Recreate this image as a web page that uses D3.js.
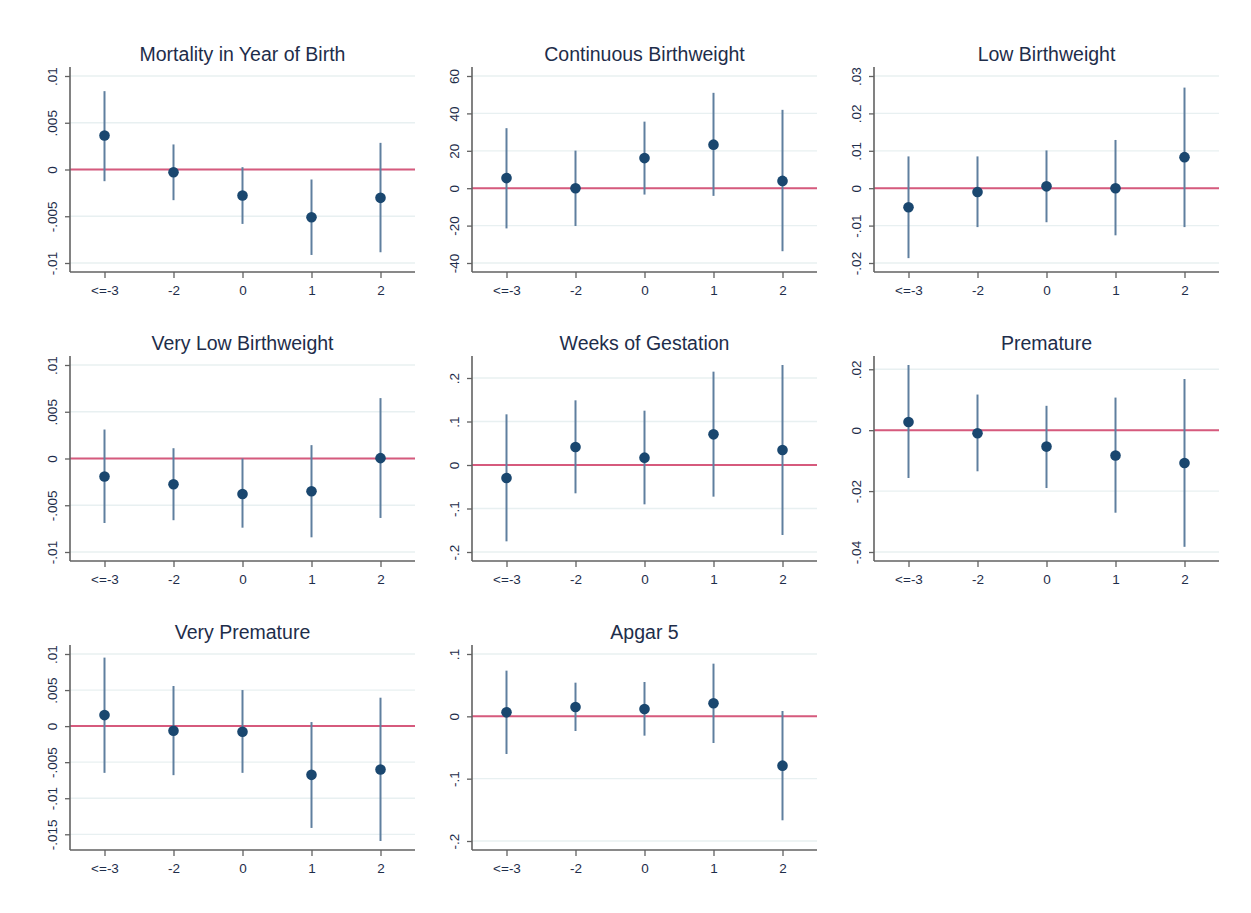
<!DOCTYPE html>
<html>
<head>
<meta charset="utf-8">
<script src="https://cdn.jsdelivr.net/npm/d3@7/dist/d3.min.js"></script>
<style>
  html, body { margin: 0; padding: 0; background: #ffffff; }
  svg { display: block; }
  text { font-family: "Liberation Sans", Arial, sans-serif; }
</style>
</head>
<body>
<svg id="chart" width="1251" height="913"></svg>
<script>
// ---- categories ----
const categories = ["<=-3", "-2", "0", "1", "2"];

// ---- panel titles ----
const titles = [
  "Mortality in Year of Birth", "Continuous Birthweight", "Low Birthweight",
  "Very Low Birthweight", "Weeks of Gestation", "Premature",
  "Very Premature", "Apgar 5"
];

// ---- point estimates and confidence intervals ----
const mortalityEst = [0.00364, -0.00029, -0.00278, -0.0051, -0.00303];
const mortalityLo  = [-0.00125, -0.00328, -0.00582, -0.00914, -0.00885];
const mortalityHi  = [0.00838, 0.00268, 0.00025, -0.00107, 0.00285];

const bwEst = [5.4, 0.0, 16.1, 23.3, 3.9];
const bwLo  = [-21.5, -20.2, -3.4, -4.1, -33.7];
const bwHi  = [32.1, 20.1, 35.6, 51.0, 41.9];

const lbwEst = [-0.0051, -0.0010, 0.0005, 0.0000, 0.0083];
const lbwLo  = [-0.0187, -0.0104, -0.0091, -0.0126, -0.0104];
const lbwHi  = [0.0085, 0.0085, 0.0101, 0.0129, 0.0269];

const vlbwEst = [-0.00193, -0.00275, -0.00379, -0.0035, 0.00004];
const vlbwLo  = [-0.0069, -0.0066, -0.0074, -0.00843, -0.00636];
const vlbwHi  = [0.0031, 0.0011, 0.0000, 0.00143, 0.00646];

const gestEst = [-0.030, 0.0414, 0.0169, 0.0705, 0.0345];
const gestLo  = [-0.1755, -0.0651, -0.0904, -0.0728, -0.1609];
const gestHi  = [0.1165, 0.1487, 0.1249, 0.2146, 0.2299];

const premEst = [0.0027, -0.0010, -0.0054, -0.0083, -0.0108];
const premLo  = [-0.0157, -0.0135, -0.0190, -0.0271, -0.0383];
const premHi  = [0.0214, 0.0117, 0.0080, 0.0107, 0.0168];

const vpremEst = [0.00153, -0.00065, -0.00079, -0.00676, -0.00602];
const vpremLo  = [-0.00648, -0.0068, -0.00648, -0.01412, -0.01593];
const vpremHi  = [0.0095, 0.00556, 0.0050, 0.00056, 0.00394];

const apgarEst = [0.0064, 0.0150, 0.0118, 0.0209, -0.0791];
const apgarLo  = [-0.0604, -0.0235, -0.0310, -0.0428, -0.1668];
const apgarHi  = [0.0733, 0.0540, 0.0551, 0.0845, 0.0086];

// ---- y tick values and labels ----
const mortalityTicks = [-0.01, -0.005, 0, 0.005, 0.01];
const mortalityTickLabels = ["-.01", "-.005", "0", ".005", ".01"];
const bwTicks = [-40, -20, 0, 20, 40, 60];
const bwTickLabels = ["-40", "-20", "0", "20", "40", "60"];
const lbwTicks = [-0.02, -0.01, 0, 0.01, 0.02, 0.03];
const lbwTickLabels = ["-.02", "-.01", "0", ".01", ".02", ".03"];
const vlbwTicks = [-0.01, -0.005, 0, 0.005, 0.01];
const vlbwTickLabels = ["-.01", "-.005", "0", ".005", ".01"];
const gestTicks = [-0.2, -0.1, 0, 0.1, 0.2];
const gestTickLabels = ["-.2", "-.1", "0", ".1", ".2"];
const premTicks = [-0.04, -0.02, 0, 0.02];
const premTickLabels = ["-.04", "-.02", "0", ".02"];
const vpremTicks = [-0.015, -0.01, -0.005, 0, 0.005, 0.01];
const vpremTickLabels = ["-.015", "-.01", "-.005", "0", ".005", ".01"];
const apgarTicks = [-0.2, -0.1, 0, 0.1];
const apgarTickLabels = ["-.2", "-.1", "0", ".1"];

const panels = [
  { est: mortalityEst, lo: mortalityLo, hi: mortalityHi, ticks: mortalityTicks, labels: mortalityTickLabels },
  { est: bwEst, lo: bwLo, hi: bwHi, ticks: bwTicks, labels: bwTickLabels },
  { est: lbwEst, lo: lbwLo, hi: lbwHi, ticks: lbwTicks, labels: lbwTickLabels },
  { est: vlbwEst, lo: vlbwLo, hi: vlbwHi, ticks: vlbwTicks, labels: vlbwTickLabels },
  { est: gestEst, lo: gestLo, hi: gestHi, ticks: gestTicks, labels: gestTickLabels },
  { est: premEst, lo: premLo, hi: premHi, ticks: premTicks, labels: premTickLabels },
  { est: vpremEst, lo: vpremLo, hi: vpremHi, ticks: vpremTicks, labels: vpremTickLabels },
  { est: apgarEst, lo: apgarLo, hi: apgarHi, ticks: apgarTicks, labels: apgarTickLabels }
].map((p, i) => Object.assign(p, { title: titles[i] }));

// ---- layout ----
const colLeft = [70, 472, 874];
const rowTop = [67, 356, 645];
const plotW = 345;
const plotH = 205;
const inner = 9;

const C = {
  text: "#1e2d4a",
  axis: "#626262",
  grid: "#e8f0f1",
  zero: "#d65a7d",
  ci: "#5f7f9f",
  marker: "#1a476f"
};

const svg = d3.select("#chart");

panels.forEach((p, i) => {
  const left = colLeft[i % 3];
  const top = rowTop[Math.floor(i / 3)];
  const right = left + plotW;
  const bottom = top + plotH;

  const lo = Math.min(d3.min(p.ticks), d3.min(p.lo));
  const hi = Math.max(d3.max(p.ticks), d3.max(p.hi));
  const y = d3.scaleLinear().domain([lo, hi]).range([bottom - inner, top + inner]);
  const x = d3.scalePoint().domain(categories).range([left, right]).padding(0.5);

  const g = svg.append("g");

  // gridlines
  g.append("g").selectAll("line").data(p.ticks).join("line")
    .attr("x1", left).attr("x2", right)
    .attr("y1", d => y(d)).attr("y2", d => y(d))
    .attr("stroke", C.grid).attr("stroke-width", 1.3);

  // zero reference line
  g.append("line")
    .attr("x1", left).attr("x2", right)
    .attr("y1", y(0)).attr("y2", y(0))
    .attr("stroke", C.zero).attr("stroke-width", 2);

  // y axis
  const yAxis = d3.axisLeft(y).tickValues(p.ticks)
    .tickFormat((d, k) => p.labels[k]).tickSize(5).tickSizeOuter(0);
  const ya = g.append("g").attr("transform", `translate(${left},0)`).call(yAxis);
  ya.select(".domain").attr("d", `M0,${top}V${bottom}`).attr("stroke", C.axis).attr("stroke-width", 1.6);
  ya.selectAll(".tick line").attr("stroke", C.axis).attr("stroke-width", 1.3);
  ya.selectAll(".tick text")
    .attr("transform", "rotate(-90)")
    .attr("x", 0).attr("y", -13).attr("dy", 0)
    .style("text-anchor", "middle")
    .attr("fill", C.text)
    .style("font-size", "13.5px")
    .style("font-family", "'Liberation Sans', Arial, sans-serif");

  // x axis
  const xAxis = d3.axisBottom(x).tickSize(6).tickSizeOuter(0).tickPadding(7);
  const xa = g.append("g").attr("transform", `translate(0,${bottom})`).call(xAxis);
  xa.select(".domain").attr("d", `M${left},0H${right}`).attr("stroke", C.axis).attr("stroke-width", 1.6);
  xa.selectAll(".tick line").attr("stroke", C.axis).attr("stroke-width", 1.3);
  xa.selectAll(".tick text")
    .attr("fill", C.text)
    .style("font-size", "13.5px")
    .style("font-family", "'Liberation Sans', Arial, sans-serif");

  // confidence intervals
  g.append("g").selectAll("line").data(categories).join("line")
    .attr("x1", d => x(d)).attr("x2", d => x(d))
    .attr("y1", (d, k) => y(p.lo[k])).attr("y2", (d, k) => y(p.hi[k]))
    .attr("stroke", C.ci).attr("stroke-width", 2);

  // point estimates
  g.append("g").selectAll("circle").data(categories).join("circle")
    .attr("cx", d => x(d)).attr("cy", (d, k) => y(p.est[k]))
    .attr("r", 5.3).attr("fill", C.marker);

  // title
  g.append("text")
    .attr("x", (left + right) / 2).attr("y", top - 6)
    .attr("text-anchor", "middle")
    .attr("fill", C.text)
    .style("font-size", "19.5px")
    .text(p.title);
});
</script>
</body>
</html>
